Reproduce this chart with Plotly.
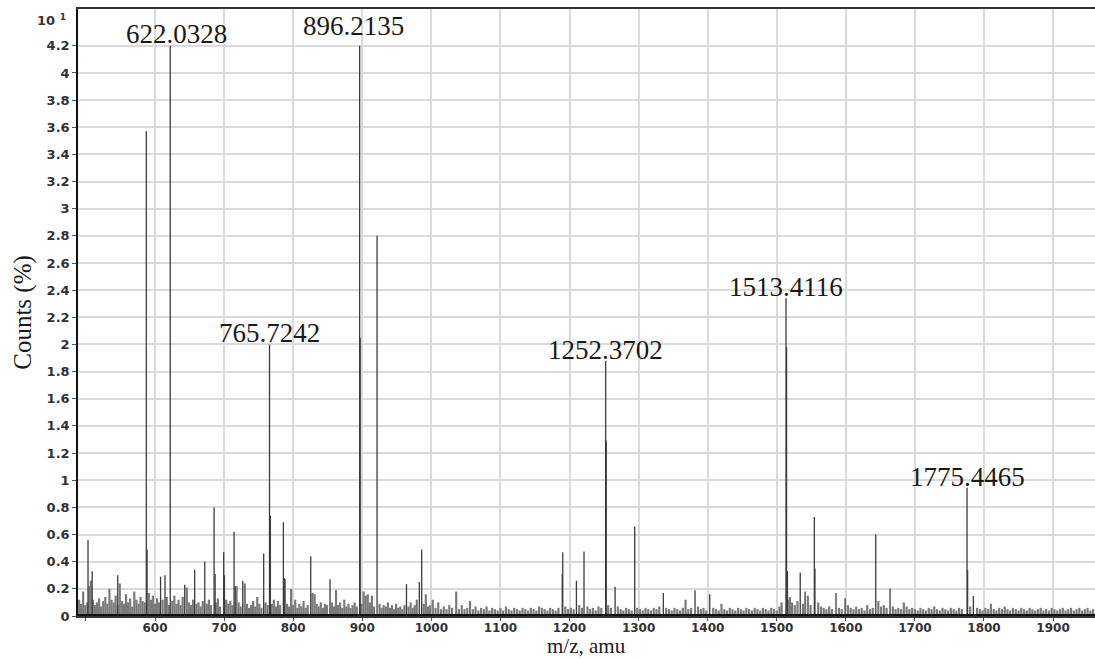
import plotly.graph_objects as go

# Major ions (m/z, relative counts in units of 10 %)
peak_mz = [503.0, 509.0, 546.0, 587.4, 588.5, 608.0, 614.5, 622.0328, 643.0,
           657.4, 672.0, 685.5, 687.0, 699.4, 700.5, 714.4, 716.0, 727.0,
           757.3, 765.7242, 767.0, 785.8, 787.0, 825.4, 853.3, 896.2135,
           897.0, 921.4, 964.0, 982.6, 986.0, 1189.5, 1190.2, 1210.0, 1221.0,
           1252.3702, 1253.2, 1266.0, 1294.4, 1335.8, 1381.7, 1403.0,
           1513.4116, 1514.2, 1515.5, 1534.0, 1541.0, 1554.4, 1555.3, 1585.8,
           1598.9, 1643.3, 1664.0, 1775.4465, 1776.3, 1784.6]
peak_counts = [0.56, 0.33, 0.30, 3.57, 0.49, 0.29, 0.30, 4.20, 0.23,
               0.34, 0.40, 0.80, 0.31, 0.47, 0.30, 0.62, 0.22, 0.26,
               0.46, 2.00, 0.74, 0.69, 0.28, 0.44, 0.27, 4.20,
               2.05, 2.80, 0.235, 0.25, 0.49, 0.31, 0.47, 0.26, 0.475,
               1.88, 1.29, 0.215, 0.66, 0.17, 0.19, 0.16,
               2.34, 1.98, 0.33, 0.32, 0.18, 0.73, 0.35, 0.17,
               0.13, 0.60, 0.20, 0.945, 0.34, 0.147]

# Low-level background ions
noise_mz = [490, 493, 496, 499, 502, 505, 507, 510, 513, 516, 519, 522, 525, 528,
            531, 534, 537, 540, 543, 546, 549, 552, 555, 558, 561, 564, 567, 570,
            573, 576, 579, 582, 585, 591, 594, 597, 600, 603, 606, 611, 617, 620,
            625, 628, 631, 634, 637, 640, 646, 649, 652, 655, 660, 663, 666, 669,
            675, 678, 681, 688, 691, 694, 703, 706, 709, 712, 718, 721, 724, 730,
            733, 736, 739, 742, 745, 748, 751, 754, 760, 763, 769, 772, 775, 778,
            781, 788, 791, 794, 797, 800, 803, 806, 809, 812, 815, 818, 821, 828,
            831, 834, 837, 840, 843, 846, 849, 856, 859, 862, 865, 868, 871, 874,
            877, 880, 883, 886, 889, 892, 899, 902, 905, 908, 911, 914, 917, 925,
            928, 931, 934, 937, 940, 943, 946, 949, 952, 955, 958, 961, 967, 970,
            973, 976, 979, 989, 992, 995, 998,
            1002, 1006, 1010, 1014, 1018, 1022, 1026, 1030, 1036, 1040, 1044, 1048,
            1052, 1056, 1060, 1064, 1068, 1072, 1076, 1080, 1084, 1088, 1092, 1096,
            1100, 1104, 1108, 1112, 1116, 1120, 1124, 1128, 1132, 1136, 1140, 1144,
            1148, 1152, 1156, 1160, 1164, 1168, 1172, 1176, 1180, 1184, 1194, 1198,
            1202, 1206, 1214, 1218, 1226, 1230, 1234, 1238, 1242, 1246, 1256, 1260,
            1270, 1274, 1278, 1282, 1286, 1290, 1298, 1302, 1306, 1310, 1314, 1318,
            1322, 1326, 1330, 1340, 1344, 1348, 1352, 1356, 1360, 1364, 1368, 1372,
            1376, 1386, 1390, 1394, 1398, 1408, 1412, 1416, 1420, 1424, 1428, 1432,
            1436, 1440, 1444, 1448, 1452, 1456, 1460, 1464, 1468, 1472, 1476, 1480,
            1484, 1488, 1492, 1496, 1500, 1504, 1507, 1516, 1519, 1522, 1526, 1530,
            1538, 1545, 1549, 1560, 1564, 1568, 1572, 1576, 1580, 1590, 1594, 1603,
            1607, 1611, 1615, 1619, 1623, 1627, 1631, 1635, 1639, 1647, 1651, 1655,
            1659, 1668, 1672, 1676, 1680, 1684, 1688, 1692, 1696, 1700, 1704, 1708,
            1712, 1716, 1720, 1724, 1728, 1732, 1736, 1740, 1744, 1748, 1752, 1756,
            1760, 1764, 1768, 1780, 1790, 1794, 1798, 1802, 1806, 1810, 1814, 1818,
            1822, 1826, 1830, 1834, 1838, 1842, 1846, 1850, 1854, 1858, 1862, 1866,
            1870, 1874, 1878, 1882, 1886, 1890, 1894, 1898, 1902, 1906, 1910, 1914,
            1918, 1922, 1926, 1930, 1934, 1938, 1942, 1946, 1950, 1954, 1958]
noise_counts = [0.12, 0.09, 0.18, 0.08, 0.10, 0.22, 0.26, 0.12, 0.08, 0.10, 0.13, 0.07, 0.11, 0.14,
                0.09, 0.20, 0.12, 0.10, 0.15, 0.08, 0.24, 0.11, 0.09, 0.16, 0.10, 0.13, 0.07, 0.18,
                0.12, 0.09, 0.14, 0.11, 0.10, 0.17, 0.12, 0.15, 0.09, 0.13, 0.10, 0.12, 0.14, 0.08,
                0.11, 0.15, 0.09, 0.12, 0.08, 0.14, 0.21, 0.10, 0.08, 0.12, 0.09, 0.10, 0.07, 0.11,
                0.09, 0.12, 0.08, 0.10, 0.13, 0.07, 0.12, 0.09, 0.11, 0.08, 0.22, 0.10, 0.07, 0.24,
                0.09, 0.06, 0.08, 0.11, 0.07, 0.14, 0.09, 0.06, 0.10, 0.08, 0.09, 0.12, 0.07, 0.11,
                0.08, 0.27, 0.09, 0.07, 0.20, 0.08, 0.12, 0.06, 0.09, 0.07, 0.11, 0.06, 0.08, 0.17,
                0.16, 0.09, 0.07, 0.10, 0.06, 0.09, 0.08, 0.10, 0.07, 0.19, 0.08, 0.10, 0.06, 0.12,
                0.07, 0.09, 0.06, 0.08, 0.10, 0.07, 0.09, 0.18, 0.15, 0.16, 0.10, 0.15, 0.07, 0.09,
                0.06, 0.08, 0.07, 0.10, 0.06, 0.08, 0.05, 0.09, 0.06, 0.07, 0.05, 0.08, 0.07, 0.10,
                0.06, 0.08, 0.12, 0.09, 0.16, 0.07, 0.08,
                0.12, 0.06, 0.10, 0.05, 0.07, 0.05, 0.08, 0.06, 0.18, 0.05, 0.08, 0.05,
                0.06, 0.11, 0.05, 0.07, 0.04, 0.06, 0.05, 0.07, 0.04, 0.06, 0.05, 0.04,
                0.06, 0.04, 0.07, 0.05, 0.04, 0.06, 0.05, 0.04, 0.06, 0.05, 0.04, 0.06,
                0.05, 0.04, 0.07, 0.06, 0.05, 0.04, 0.06, 0.05, 0.04, 0.06, 0.07, 0.05,
                0.06, 0.05, 0.08, 0.06, 0.07, 0.05, 0.06, 0.04, 0.07, 0.06, 0.08, 0.06,
                0.07, 0.05, 0.04, 0.06, 0.05, 0.04, 0.06, 0.05, 0.04, 0.06, 0.05, 0.04,
                0.06, 0.05, 0.07, 0.06, 0.05, 0.04, 0.06, 0.05, 0.04, 0.06, 0.12, 0.05,
                0.06, 0.07, 0.05, 0.06, 0.04, 0.06, 0.05, 0.04, 0.09, 0.05, 0.04, 0.06,
                0.05, 0.04, 0.06, 0.05, 0.04, 0.06, 0.05, 0.04, 0.06, 0.05, 0.04, 0.06,
                0.05, 0.04, 0.06, 0.05, 0.04, 0.07, 0.10, 0.12, 0.14, 0.10, 0.08, 0.11,
                0.09, 0.15, 0.08, 0.10, 0.07, 0.06, 0.05, 0.07, 0.05, 0.06, 0.05, 0.08,
                0.06, 0.05, 0.07, 0.05, 0.06, 0.04, 0.08, 0.05, 0.06, 0.11, 0.07, 0.08,
                0.06, 0.07, 0.05, 0.06, 0.05, 0.10, 0.07, 0.05, 0.06, 0.05, 0.04, 0.06,
                0.05, 0.04, 0.06, 0.05, 0.07, 0.05, 0.04, 0.06, 0.05, 0.04, 0.06, 0.05,
                0.04, 0.06, 0.05, 0.07, 0.06, 0.05, 0.04, 0.06, 0.05, 0.09, 0.05, 0.04,
                0.06, 0.05, 0.07, 0.05, 0.04, 0.06, 0.05, 0.04, 0.06, 0.05, 0.04, 0.06,
                0.05, 0.04, 0.05, 0.06, 0.04, 0.05, 0.04, 0.06, 0.05, 0.04, 0.05, 0.06,
                0.04, 0.05, 0.06, 0.04, 0.05, 0.06, 0.04, 0.05, 0.06, 0.04, 0.05]

# Annotated ions
label_mz = [622.0328, 896.2135, 765.7242, 1252.3702, 1513.4116, 1775.4465]
label_text = ["622.0328", "896.2135", "765.7242", "1252.3702", "1513.4116", "1775.4465"]

x_ticks = [600, 700, 800, 900, 1000, 1100, 1200, 1300, 1400, 1500, 1600, 1700, 1800, 1900]
x_tick_text = ["600", "700", "800", "900", "1000", "1100", "1200", "1300", "1400",
               "1500", "1600", "1700", "1800", "1900"]
y_ticks = [0, 0.2, 0.4, 0.6, 0.8, 1, 1.2, 1.4, 1.6, 1.8, 2, 2.2, 2.4, 2.6, 2.8, 3, 3.2,
           3.4, 3.6, 3.8, 4, 4.2]
y_tick_text = ["0", "0.2", "0.4", "0.6", "0.8", "1", "1.2", "1.4", "1.6", "1.8", "2", "2.2",
               "2.4", "2.6", "2.8", "3", "3.2", "3.4", "3.6", "3.8", "4", "4.2"]


def stick_path(mz_values, heights):
    xs, ys = [], []
    for m, h in zip(mz_values, heights):
        xs += [m, m, None]
        ys += [0, h, None]
    return xs, ys


fig = go.Figure()

nx, ny = stick_path(noise_mz, noise_counts)
fig.add_trace(go.Scatter(x=nx, y=ny, mode="lines", hoverinfo="skip",
                         line=dict(color="#7a7a7a", width=2.2), showlegend=False))

px_, py_ = stick_path(peak_mz, peak_counts)
fig.add_trace(go.Scatter(x=px_, y=py_, mode="lines", hoverinfo="skip",
                         line=dict(color="#3c3c3c", width=1.3), showlegend=False))

# Peak labels sit on top of their sticks
label_height = {m: h for m, h in zip(peak_mz, peak_counts)}
label_xshift = [6, -6, 0, 0, 0, 0]
label_yshift = [-5, 3, -6, -6, -6, -6]
for m, t, dx, dy in zip(label_mz, label_text, label_xshift, label_yshift):
    fig.add_annotation(x=m, y=label_height[m], text=t, showarrow=False,
                       xanchor="center", yanchor="bottom", xshift=dx, yshift=dy,
                       font=dict(family="Liberation Serif", size=27, color="#1a1a1a"))

# Exponent marker for the count axis
fig.add_annotation(xref="paper", yref="paper", x=-0.0098, y=0.982, text="10 <sup>1</sup>",
                   showarrow=False, xanchor="right", yanchor="middle",
                   font=dict(family="DejaVu Sans", size=13, color="#333333", weight="bold"))

# m/z axis caption below the tick labels, resting on the bottom edge
fig.add_annotation(xref="paper", yref="paper", x=0.5, y=-0.071, text="m/z, amu",
                   showarrow=False, xanchor="center", yanchor="bottom", borderpad=0,
                   font=dict(family="Liberation Serif", size=21, color="#1a1a1a"))

# Heavy baseline
fig.add_shape(type="line", xref="paper", yref="y", x0=0, x1=1, y0=0, y1=0,
              line=dict(color="#111111", width=4))

fig.update_layout(
    width=1095, height=659,
    margin=dict(l=78, r=0, t=9, b=43),
    paper_bgcolor="white", plot_bgcolor="white",
    showlegend=False,
)
fig.update_xaxes(
    range=[488.5, 1960.7], tickvals=x_ticks, ticktext=x_tick_text,
    showgrid=True, gridcolor="#dadada", gridwidth=1.5,
    showline=True, linecolor="#333333", linewidth=1.5, mirror=True,
    ticks="outside", ticklen=3, tickcolor="#555555", ticklabelstandoff=-3,
    minor=dict(tick0=500, dtick=100, ticks="outside", ticklen=3, tickcolor="#555555",
               showgrid=False),
    tickfont=dict(family="DejaVu Sans", size=12, color="#333333", weight="bold"),
    zeroline=False,
)
fig.update_yaxes(
    range=[0, 4.471], tickvals=y_ticks, ticktext=y_tick_text,
    showgrid=True, gridcolor="#dadada", gridwidth=1.5,
    showline=True, linecolor="#111111", linewidth=1.5,
    ticks="outside", ticklen=4, tickcolor="#555555",
    tickfont=dict(family="DejaVu Sans", size=13, color="#333333", weight="bold"),
    zeroline=False,
    title=dict(text="Counts (%)", standoff=8,
               font=dict(family="Liberation Serif", size=25, color="#1a1a1a")),
)

fig.write_html("out.html")
